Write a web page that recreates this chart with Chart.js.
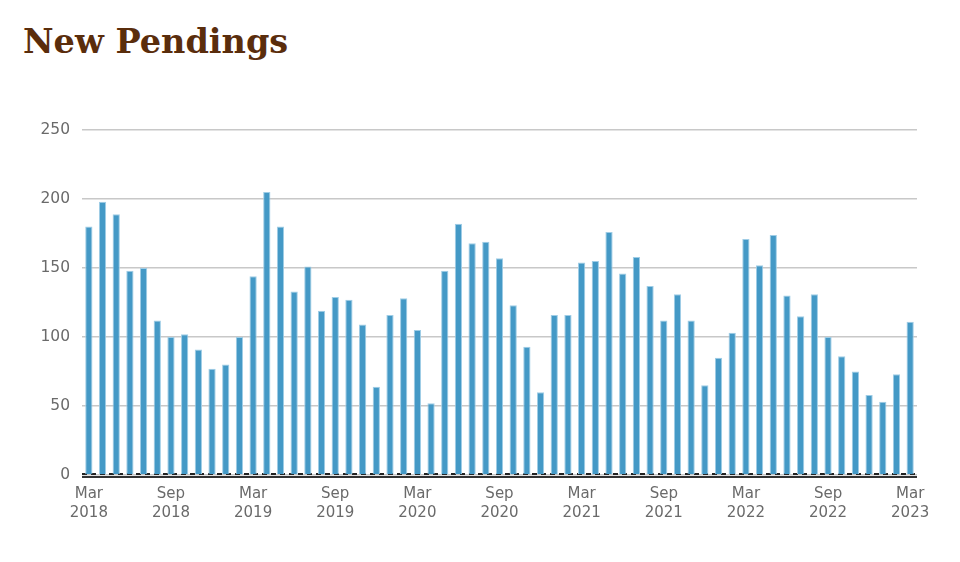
<!DOCTYPE html>
<html>
<head>
<meta charset="utf-8">
<script src="https://cdn.jsdelivr.net/npm/chart.js@4"></script>
<style>
  body { margin: 0; background: #fff; }
  #wrap { position: relative; width: 960px; height: 562px; }
  #title {
    position: absolute; left: 23px; top: 22px; margin: 0;
    font-family: "DejaVu Serif", serif; font-weight: bold; font-size: 33.5px;
    color: #5a2d0c;
  }
  #chartBox { position: absolute; left: 0; top: 0; width: 960px; height: 562px; }
</style>
</head>
<body>
<div id="wrap">
  <h1 id="title">New Pendings</h1>
  <div id="chartBox"><canvas id="myChart"></canvas></div>
</div>
<script>
const monthNames = ['Jan','Feb','Mar','Apr','May','Jun','Jul','Aug','Sep','Oct','Nov','Dec']
let months = []
for (let i = 0; i < 61; i++) {
  const m = (2 + i) % 12
  const y = 2018 + Math.floor((2 + i) / 12)
  months.push([monthNames[m], String(y)])
}

const pendings = [
  180, 198, 189, 148, 150, 112, 100, 102, 91, 77, 80, 100,
  144, 205, 180, 133, 151, 119, 129, 127, 109, 64, 116, 128,
  105, 52, 148, 182, 168, 169, 157, 123, 93, 60, 116, 116,
  154, 155, 176, 146, 158, 137, 112, 131, 112, 65, 85, 103,
  171, 152, 174, 130, 115, 131, 100, 86, 75, 58, 53, 73,
  111
]

const yTicks = [0, 50, 100, 150, 200, 250]

const zeroLines = {
  id: 'zeroLines',
  beforeDatasetsDraw(chart) {
    const ctx = chart.ctx
    const y0 = chart.scales.y.getPixelForValue(0)
    ctx.save()
    ctx.strokeStyle = '#222'
    ctx.lineWidth = 2
    ctx.setLineDash([5, 4])
    ctx.beginPath()
    ctx.moveTo(chart.chartArea.left, y0 - 1)
    ctx.lineTo(chart.chartArea.right, y0 - 1)
    ctx.stroke()
    ctx.restore()
  },
  afterDatasetsDraw(chart) {
    const ctx = chart.ctx
    const y0 = chart.scales.y.getPixelForValue(0)
    ctx.save()
    ctx.strokeStyle = '#333'
    ctx.lineWidth = 2
    ctx.beginPath()
    ctx.moveTo(chart.chartArea.left, y0 + 2)
    ctx.lineTo(chart.chartArea.right, y0 + 2)
    ctx.stroke()
    ctx.restore()
  }
}

const ctx = document.getElementById('myChart')
new Chart(ctx, {
  type: 'bar',
  data: {
    labels: months,
    datasets: [{
      label: 'New Pendings',
      data: pendings,
      backgroundColor: '#4499c6',
      borderColor: '#9fcde6',
      borderWidth: 1,
      barPercentage: 0.53,
      categoryPercentage: 1.0
    }]
  },
  options: {
    responsive: true,
    maintainAspectRatio: false,
    animation: false,
    layout: { padding: { left: 0, right: 43, top: 130, bottom: 34 } },
    plugins: {
      legend: { display: false },
      tooltip: { enabled: false }
    },
    scales: {
      x: {
        grid: { display: false, drawTicks: false },
        border: { display: false },
        afterFit(scale) { scale.height = 53 },
        ticks: {
          autoSkip: false,
          maxRotation: 0,
          padding: 9,
          color: '#6a6a6a',
          font: { family: 'DejaVu Sans', size: 15, lineHeight: 1.3 },
          callback: function (val, i) { return i % 6 === 0 ? this.getLabelForValue(val) : '' }
        }
      },
      y: {
        min: 0,
        max: 250,
        afterFit(scale) { scale.width = 82 },
        afterBuildTicks(scale) { scale.ticks = yTicks.map(v => ({ value: v })) },
        grid: { color: '#c8c8c8', lineWidth: 1.5, drawTicks: false },
        border: { display: false },
        ticks: {
          padding: 12,
          color: '#6a6a6a',
          font: { family: 'DejaVu Sans', size: 15.5 }
        }
      }
    }
  },
  plugins: [zeroLines]
})
</script>
</body>
</html>
